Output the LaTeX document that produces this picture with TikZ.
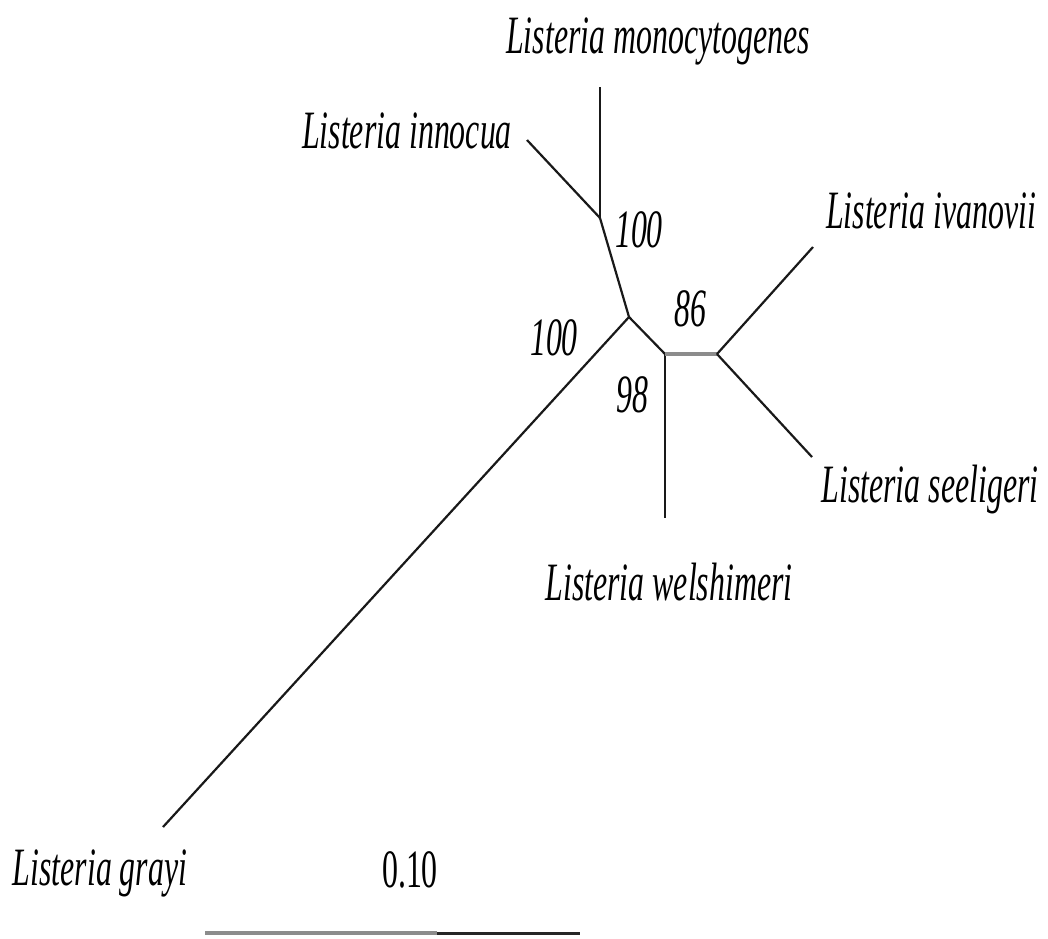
\documentclass[tikz,border=0pt]{standalone}
\usepackage{fontspec}
\setmainfont{Liberation Serif}
\begin{document}
\begin{tikzpicture}[
    x=1pt, y=-1pt,
    taxon/.style={font=\fontsize{54}{56}\selectfont\itshape, xscale=0.59, transform shape, inner sep=0pt, anchor=base},
    support/.style={taxon},
    scalelabel/.style={font=\fontsize{54}{56}\selectfont, xscale=0.59, transform shape, inner sep=0pt, anchor=base},
    branch/.style={draw=black!90, line width=2.2pt},
    gbranch/.style={draw=black!45, line width=4pt},
]
    \useasboundingbox (0,0) rectangle (1048,938);

    %Points of the tree
    \coordinate (inner1) at (600,218);
    \coordinate (inner2) at (629,317);
    \coordinate (inner3) at (665,354);
    \coordinate (inner4) at (717,354);
    \coordinate (mono) at (600,87);
    \coordinate (inno) at (527,140);
    \coordinate (iva) at (813,247);
    \coordinate (seel) at (812,457);
    \coordinate (wels) at (665,518);
    \coordinate (gray) at (163,827);
    \coordinate (barA) at (205,933);
    \coordinate (barM) at (437,933);
    \coordinate (barB) at (580,933);

    %Nodes
    \node[taxon] (lmono) at (658,53) {Listeria monocytogenes};
    \node[taxon] (linno) at (407,148) {Listeria innocua};
    \node[taxon] (liva) at (931,228) {Listeria ivanovii};
    \node[taxon] (lseel) at (930,502) {Listeria seeligeri};
    \node[taxon] (lwels) at (669,600) {Listeria welshimeri};
    \node[taxon] (lgray) at (100,885) {Listeria grayi};
    \node[support] (b1) at (639,247) {100};
    \node[support] (b2) at (690,326) {86};
    \node[support] (b3) at (554,355) {100};
    \node[support] (b4) at (632,412) {98};
    \node[scalelabel] (sc) at (410,887) {0.10};

    %Lines
    \draw[branch] (mono) -- (inner1);
    \draw[branch] (inno) -- (inner1);
    \draw[branch] (inner1) -- (inner2);
    \draw[branch] (inner2) -- (inner3);
    \draw[branch] (inner2) -- (gray);
    \draw[branch] (inner3) -- (wels);
    \draw[gbranch] (inner3) -- (inner4);
    \draw[branch] (inner4) -- (iva);
    \draw[branch] (inner4) -- (seel);
    \draw[gbranch] (barA) -- (barM);
    \draw[draw=black!85, line width=3pt] (barM) -- (barB);
\end{tikzpicture}
\end{document}
